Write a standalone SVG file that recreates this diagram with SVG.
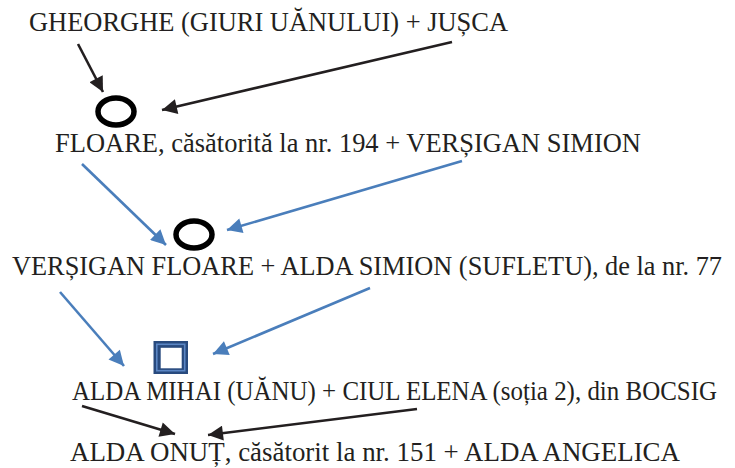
<svg xmlns="http://www.w3.org/2000/svg" width="735" height="468" viewBox="0 0 735 468">
<defs>
<style>
.t{font-family:'Liberation Serif','Times New Roman',serif;font-size:26.5px;fill:#231f20}
.k{stroke:#231f20;stroke-width:2.6;fill:none}
.b{stroke:#4a7ebb;stroke-width:2.6;fill:none}
.ring{fill:none;stroke:#000;stroke-width:5.5}
</style>
<marker id="ak" viewBox="0 0 10 10" refX="10" refY="5" markerUnits="userSpaceOnUse" markerWidth="17" markerHeight="15" orient="auto"><path d="M0,0 L10,5 L0,10 z" fill="#231f20"/></marker>
<marker id="ab" viewBox="0 0 10 10" refX="10" refY="5" markerUnits="userSpaceOnUse" markerWidth="17" markerHeight="15" orient="auto"><path d="M0,0 L10,5 L0,10 z" fill="#4a7ebb"/></marker>
</defs>
<rect width="735" height="468" fill="#fff"/>
<g id="n1"><text class="t" x="29" y="31" textLength="479" lengthAdjust="spacingAndGlyphs">GHEORGHE (GIURI UĂNULUI) + JUȘCA</text></g>
<g id="n2"><text class="t" x="55" y="152" textLength="586" lengthAdjust="spacingAndGlyphs">FLOARE, căsătorită la nr. 194 + VERȘIGAN SIMION</text></g>
<g id="n3"><text class="t" x="12" y="275" textLength="710" lengthAdjust="spacingAndGlyphs">VERȘIGAN FLOARE + ALDA SIMION (SUFLETU), de la nr. 77</text></g>
<g id="n4"><text class="t" x="72" y="400" textLength="645" lengthAdjust="spacingAndGlyphs">ALDA MIHAI (UĂNU) + CIUL ELENA (soția 2), din BOCSIG</text></g>
<g id="n5"><text class="t" x="70" y="461" textLength="610" lengthAdjust="spacingAndGlyphs">ALDA ONUȚ, căsătorit la nr. 151 + ALDA ANGELICA</text></g>
<g id="m1"><ellipse class="ring" cx="116" cy="111.5" rx="18" ry="13.5"/></g>
<g id="m2"><ellipse class="ring" cx="194" cy="234.5" rx="18" ry="13.5"/></g>
<g id="m3">
<rect x="153.5" y="341" width="34.5" height="33" fill="#284a7e"/>
<rect x="156.8" y="344.3" width="27.9" height="26.4" fill="none" stroke="#5b86c4" stroke-width="1.6"/>
<rect x="160.7" y="347.8" width="21" height="20.5" fill="#fff"/>
</g>
<g id="connectors">
<line class="k" x1="78" y1="44" x2="103" y2="92" marker-end="url(#ak)"/>
<line class="k" x1="452" y1="42" x2="162" y2="110" marker-end="url(#ak)"/>
<line class="b" x1="82" y1="164" x2="166" y2="245" marker-end="url(#ab)"/>
<line class="b" x1="462" y1="161" x2="227" y2="230" marker-end="url(#ab)"/>
<line class="b" x1="60" y1="292" x2="124" y2="366" marker-end="url(#ab)"/>
<line class="b" x1="370" y1="288" x2="213" y2="354" marker-end="url(#ab)"/>
<line class="k" x1="82" y1="406" x2="175" y2="434" marker-end="url(#ak)"/>
<line class="k" x1="417" y1="409" x2="208" y2="435" marker-end="url(#ak)"/>
</g>
</svg>
